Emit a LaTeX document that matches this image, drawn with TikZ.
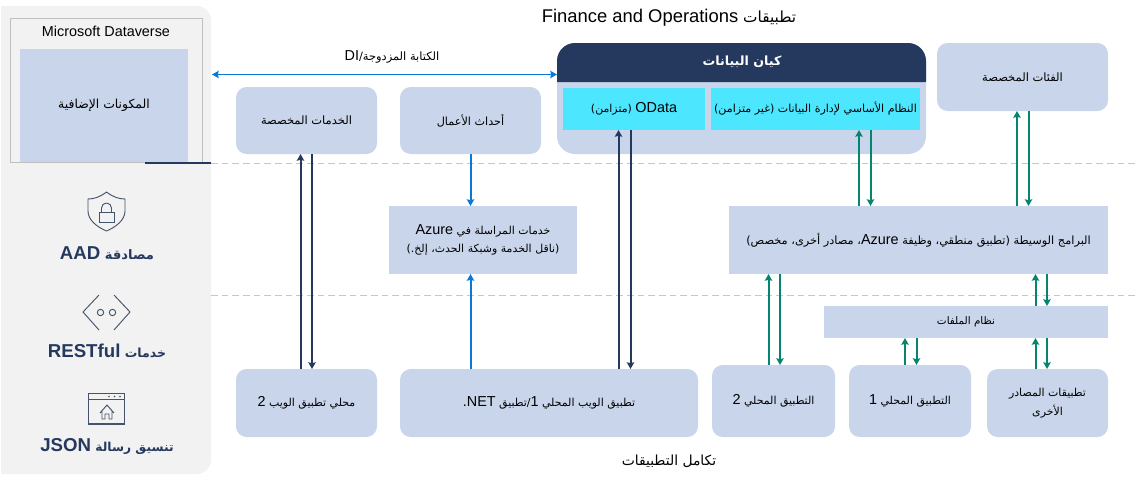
\documentclass[tikz,border=0pt]{standalone}
\usepackage{fontspec}
\setmainfont{Liberation Sans}
\newfontfamily\arabicfont[Script=Arabic]{DejaVu Sans}
\TeXXeTstate=1
\usetikzlibrary{arrows.meta}
\definecolor{bluebox}{HTML}{C9D5EA}
\definecolor{navy}{HTML}{25395F}
\definecolor{cyanbox}{HTML}{4DE6FF}
\definecolor{azureline}{HTML}{0A78D7}
\definecolor{greenline}{HTML}{05856F}
\definecolor{panelgray}{HTML}{F2F2F2}
\definecolor{iconcol}{HTML}{44546A}
\newcommand{\ar}[1]{{\arabicfont\beginR #1\endR}}
\newcommand{\lt}[1]{\beginL{\rmfamily #1}\endL}
\newcommand{\lb}[1]{\lt{\fontsize{10.8}{12}\selectfont #1}}
\newcommand{\fsz}[1]{\fontsize{#1}{14}\selectfont}
\tikzset{
  x=0.75pt,y=-0.75pt,
  area/.style n args={4}{at={({(#1+#3)/2},{(#2+#4)/2})},minimum width={(#3-#1)*0.75pt},minimum height={(#4-#2)*0.75pt}},
  boxbase/.style={fill=bluebox,inner sep=0pt,outer sep=0pt,align=center,text=black,font=\fontsize{8.2}{14}\selectfont},
  rbox/.style={boxbase,rounded corners=8pt},
  sbox/.style={boxbase},
  cbox/.style={boxbase,fill=cyanbox},
  lab/.style={inner sep=0pt,outer sep=0pt,align=center,text=black,font=\fontsize{8.6}{14}\selectfont},
  sidelab/.style={inner sep=0pt,outer sep=0pt,text=navy,font=\fontsize{14}{15}\bfseries\selectfont},
  title/.style={inner sep=0pt,outer sep=0pt,text=black,font=\fontsize{13.8}{15}\selectfont},
  tip/.style={-{Stealth[length=5pt,width=5.5pt,inset=0.6pt]}},
  navyln/.style={tip,navy,line width=1.5pt},
  azureln/.style={tip,azureline,line width=1.5pt},
  greenln/.style={tip,greenline,line width=1.5pt},
  icon/.style={draw=iconcol,line width=0.7pt,fill=none},
  sep/.style={draw=black!22,line width=0.6pt,dash pattern=on 5pt off 3pt},
}
\begin{document}
\begin{tikzpicture}
\useasboundingbox (0,0) rectangle (1137,479);
% panel
\fill[panelgray] (1,6) [rounded corners=10.5pt] -- (211,6) -- (211,474) [sharp corners] -- (1,474) -- cycle;
% separators
\coordinate (s1a) at (211,163.5); \coordinate (s1b) at (1137,163.5);
\coordinate (s2a) at (211,295); \coordinate (s2b) at (1137,295);
\draw[sep] (s1a) -- (s1b);
\draw[sep] (s2a) -- (s2b);
% dataverse
\node[draw=black!25,line width=0.7pt,fill=panelgray,inner sep=0pt,area={10}{18}{202}{162}] (dv) {};
\node[title,font=\fontsize{10.8}{14}\selectfont] (dvt) at (106,31) {Microsoft Dataverse};
\node[sbox,area={20}{49}{188}{162}] (plug) {\fsz{9.3}\ar{المكونات الإضافية}};
\coordinate (da) at (145,163); \coordinate (db) at (211,163);
\draw[navy,line width=2pt] (da) -- (db);
% titles
\node[title] (t1) at (669,18) {\ar{{\arabicfont\fsz{11.5}تطبيقات }\lt{Finance and Operations}}};
\node[title] (t2) at (669,461) {\fsz{10.4}\ar{تكامل التطبيقات}};
% top row
\node[rbox,area={236}{87}{377}{154}] (cs) {\fsz{8.6}\ar{الخدمات المخصصة}};
\node[rbox,area={400}{87}{541}{154}] (be) {\fsz{8.4}\ar{أحداث الأعمال}};
\node[boxbase,rounded corners=13.5pt,area={557}{43}{926}{154}] (de) {};
\fill[navy] (557,82) [rounded corners=13.5pt] -- (557,43) -- (926,43) [sharp corners] -- (926,82) -- cycle;
\node[inner sep=0pt,text=white,font=\fontsize{9.5}{12}\bfseries\selectfont] (det) at (742,62) {\ar{كيان البيانات}};
\node[cbox,area={563}{88}{705}{130}] (od) {\ar{\lb{OData} (متزامن)}};
\node[cbox,area={711}{88}{920}{130}] (dm) {\fsz{8.3}\ar{النظام الأساسي لإدارة البيانات (غير متزامن)}};
\node[rbox,area={937}{43}{1108}{111}] (cc) {\fsz{8.6}\ar{الفئات المخصصة}};
% middle row
\node[sbox,area={389}{206}{577}{274}] (az) {\ar{خدمات المراسلة في \lb{Azure}}\\\ar{(ناقل الخدمة وشبكة الحدث، إلخ.)}};
\node[sbox,area={729}{206}{1108}{274}] (mw) {\fsz{8.5}\ar{البرامج الوسيطة (تطبيق منطقي، وظيفة \lb{Azure}، مصادر أخرى، مخصص)}};
\node[sbox,area={824}{306}{1108}{338}] (fs) {\fsz{7.8}\ar{نظام الملفات}};
% bottom row
\node[rbox,area={236}{369}{377}{437}] (w2) {\ar{محلي تطبيق الويب \lb{2}}};
\node[rbox,area={400}{369}{698}{437}] (w1) {\ar{تطبيق الويب المحلي \lb{1}/تطبيق \lb{.NET}}};
\node[rbox,area={712}{365}{835}{437}] (l2) {\ar{التطبيق المحلي \lb{2}}};
\node[rbox,area={849}{365}{971}{437}] (l1) {\ar{التطبيق المحلي \lb{1}}};
\node[rbox,area={987}{369}{1108}{437}] (ot) {\ar{تطبيقات المصادر}\\\ar{الأخرى}};
% dual write
\node[lab] (dwl) at (392,57) {\ar{الكتابة المزدوجة/\lb{DI}}};
\coordinate (dwa) at (212,74.5);
\draw[azureline,line width=1.2pt,{Stealth[length=5pt,width=5.5pt,inset=0.6pt]}-{Stealth[length=5pt,width=5.5pt,inset=0.6pt]}] (dwa) -- (de.west |- dwa);
% connectors
\draw[navyln] (w2.north -| 300.5,0) -- (cs.south -| 300.5,0);
\draw[navyln] (cs.south -| 312,0) -- (w2.north -| 312,0);
\draw[navyln] (w1.north -| 618.5,0) -- (od.south -| 618.5,0);
\draw[navyln] (od.south -| 630.5,0) -- (w1.north -| 630.5,0);
\draw[azureln] (be.south -| 470.5,0) -- (az.north -| 470.5,0);
\draw[azureln] (w1.north -| 470.5,0) -- (az.south -| 470.5,0);
\draw[greenln] (mw.north -| 859,0) -- (dm.south -| 859,0);
\draw[greenln] (dm.south -| 870.5,0) -- (mw.north -| 870.5,0);
\draw[greenln] (mw.north -| 1017,0) -- (cc.south -| 1017,0);
\draw[greenln] (cc.south -| 1028.5,0) -- (mw.north -| 1028.5,0);
\draw[greenln] (l2.north -| 768.5,0) -- (mw.south -| 768.5,0);
\draw[greenln] (mw.south -| 780,0) -- (l2.north -| 780,0);
\draw[greenln] (fs.north -| 1035.5,0) -- (mw.south -| 1035.5,0);
\draw[greenln] (mw.south -| 1047,0) -- (fs.north -| 1047,0);
\draw[greenln] (l1.north -| 905,0) -- (fs.south -| 905,0);
\draw[greenln] (fs.south -| 916.5,0) -- (l1.north -| 916.5,0);
\draw[greenln] (ot.north -| 1035.5,0) -- (fs.south -| 1035.5,0);
\draw[greenln] (fs.south -| 1047,0) -- (ot.north -| 1047,0);
% shield icon
\draw[icon,line join=round] (106.5,192) .. controls (100,197) and (94,199) .. (88,199) -- (88,211) .. controls (88,220) and (97,227) .. (106.5,231) .. controls (116,227) and (125,220) .. (125,211) -- (125,199) .. controls (119,199) and (113,197) .. (106.5,192) -- cycle;
\draw[icon] (99,212) rectangle (114,222);
\draw[icon] (101.5,212) -- (101.5,208) arc[start angle=180,end angle=0,x radius=3.75pt,y radius=3.75pt] -- (111.5,212);
\node[sidelab] (aad) at (107,253) {\ar{{\arabicfont\fontsize{9.8}{12}\bfseries\selectfont مصادقة }\lt{AAD}}};
% code icon
\draw[icon] (99,295) -- (83,312) -- (99,330);
\draw[icon] (114,295) -- (130,312) -- (114,330);
\draw[icon] (100.5,312.5) circle[radius=2.4pt];
\draw[icon] (112.5,312.5) circle[radius=2.4pt];
\node[sidelab] (rest) at (107,351) {\ar{{\arabicfont\fontsize{9.4}{12}\bfseries\selectfont خدمات }\lt{RESTful}}};
% window icon
\draw[icon,line width=0.9pt] (88.5,393.5) rectangle (124.5,424);
\draw[icon] (88.5,399.5) -- (124.5,399.5);
\fill[iconcol] (109,396.5) circle[radius=0.6pt] (114.5,396.5) circle[radius=0.6pt] (120,396.5) circle[radius=0.6pt];
\draw[icon,line join=round] (100,413) -- (107,405) -- (114,413) (102,411) -- (102,419) -- (105,419) -- (105,414) -- (109,414) -- (109,419) -- (112,419) -- (112,411);
\node[sidelab] (js) at (107,446) {\ar{{\arabicfont\fontsize{9.2}{12}\bfseries\selectfont تنسيق رسالة }\lt{JSON}}};
\end{tikzpicture}
\end{document}
